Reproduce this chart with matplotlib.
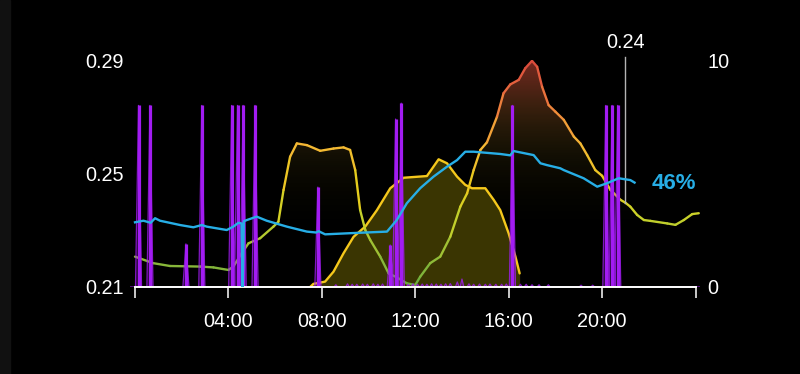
"""
Daily trace: value curve (0.21-0.29), secondary curve, percentage line and event spikes.
"""

import matplotlib
matplotlib.use("Agg")

import matplotlib.pyplot as plt
import numpy as np
from matplotlib.collections import LineCollection
from matplotlib.colors import LinearSegmentedColormap, Normalize
from matplotlib.patches import Rectangle

plt.rcParams["font.family"] = ["Liberation Sans", "DejaVu Sans"]

####################################################################
# DATA
####################################################################

grad_hours = [
    0.0, 0.78, 1.5, 2.79, 3.36, 4.0, 4.21, 4.57, 4.86, 5.36, 5.93, 6.14,
    6.36, 6.64, 6.93, 7.36, 7.93, 8.5, 8.93, 9.21, 9.43, 9.64, 9.86, 10.07,
    10.5, 10.86, 11.21, 11.64, 12.0, 12.21, 12.64, 13.07, 13.5, 13.93, 14.22,
    14.5, 14.79, 15.07, 15.5, 15.78, 16.07, 16.43, 16.71, 17.0, 17.22, 17.43,
    17.71, 18.0, 18.36, 18.79, 19.07, 19.36, 19.71, 20.0, 20.36, 20.79, 21.0,
    21.21, 21.5, 21.79, 22.07, 22.79, 23.14, 23.5, 23.86, 24.14,
]
grad_values = [
    0.2207, 0.2184, 0.2174, 0.2172, 0.2169, 0.2160, 0.2172, 0.2219, 0.2254,
    0.2272, 0.2313, 0.2330, 0.2442, 0.2559, 0.2606, 0.2600, 0.2580, 0.2588,
    0.2592, 0.2583, 0.2512, 0.2371, 0.2301, 0.2266, 0.2207, 0.2148, 0.2134,
    0.2113, 0.2107, 0.2136, 0.2184, 0.2207, 0.2277, 0.2383, 0.2430, 0.2512,
    0.2583, 0.2610, 0.2700, 0.2783, 0.2814, 0.2830, 0.2871, 0.2897, 0.2876,
    0.2806, 0.2741, 0.2718, 0.2689, 0.2630, 0.2606, 0.2565, 0.2512, 0.2492,
    0.2442, 0.2407, 0.2397, 0.2383, 0.2354, 0.2336, 0.2333, 0.2324, 0.2319,
    0.2336, 0.2357, 0.2360,
]

yellow_hours = [
    7.5, 7.64, 8.14, 8.5, 8.93, 9.36, 9.86, 10.36, 10.93, 11.5, 12.5, 12.78,
    13.0, 13.36, 13.79, 14.14, 14.43, 15.0, 15.36, 15.64, 16.0, 16.29, 16.47,
]
yellow_values = [
    0.2100, 0.2111, 0.2119, 0.2154, 0.2219, 0.2277, 0.2313, 0.2371, 0.2448,
    0.2485, 0.2491, 0.2524, 0.2550, 0.2536, 0.2489, 0.2460, 0.2448, 0.2448,
    0.2407, 0.2371, 0.2289, 0.2207, 0.2148,
]

blue_hours = [
    0.0, 0.36, 0.67, 0.86, 1.07, 1.93, 2.5, 2.86, 3.07, 3.93, 4.21, 4.43,
    4.56, 4.61, 4.66, 4.79, 5.21, 5.64, 6.5, 7.36, 7.76, 7.86, 8.14, 9.64,
    10.79, 11.21, 11.64, 12.21, 12.78, 13.36, 13.79, 14.14, 14.5, 15.64,
    16.07, 16.21, 17.07, 17.36, 17.64, 18.21, 18.36, 19.21, 19.79, 20.21,
    20.71, 21.21, 21.39,
]
blue_pct = [
    28.5, 29.2, 28.3, 30.3, 29.2, 27.3, 26.3, 27.3, 26.6, 25.1, 26.6, 28.3,
    28.0, 0.0, 29.0, 29.5, 31.0, 29.2, 26.6, 24.4, 24.0, 24.6, 23.2, 23.9,
    24.4, 29.5, 36.9, 43.5, 48.6, 53.0, 55.9, 59.6, 59.6, 58.6, 58.0, 59.9,
    58.1, 54.5, 53.7, 52.3, 51.5, 47.9, 44.2, 45.7, 47.9, 47.1, 46.0,
]

spike_hours = [
    0.15, 0.64, 2.18, 2.86, 4.14, 4.39, 4.63, 5.14, 7.83, 10.93, 11.16,
    11.40, 16.16, 20.16, 20.43, 20.67,
]
spike_heights = [
    8.0, 8.0, 1.9, 8.0, 8.0, 8.0, 8.0, 8.0, 4.4, 1.85, 7.4, 8.1, 8.0,
    8.0, 8.0, 8.0,
]

bump_hours = [
    8.6, 9.1, 9.3, 9.5, 9.75, 9.95, 10.2, 10.4, 10.6, 11.7, 11.9, 12.1,
    12.3, 12.5, 12.7, 12.9, 13.1, 13.3, 13.5, 13.8, 14.0, 14.3, 14.5,
    14.75, 15.0, 15.2, 15.45, 15.7, 15.9, 16.5, 16.75, 17.0, 17.3, 17.7,
    19.1, 19.6,
]
bump_heights = [
    0.10, 0.14, 0.12, 0.12, 0.13, 0.12, 0.14, 0.12, 0.13, 0.12, 0.14, 0.12,
    0.13, 0.12, 0.14, 0.13, 0.12, 0.14, 0.15, 0.22, 0.35, 0.14, 0.12,
    0.13, 0.12, 0.13, 0.12, 0.12, 0.13, 0.12, 0.12, 0.10, 0.10, 0.10,
    0.08, 0.08,
]

marker_hour = 21.0
hour_ticks = [0, 4, 8, 12, 16, 20, 24]
hour_labels = ["", "04:00", "08:00", "12:00", "16:00", "20:00", ""]
left_ticks = [0.21, 0.25, 0.29]
right_ticks = [0, 10]

####################################################################
# STYLE
####################################################################

BLUE = "#27aee6"
PURPLE = "#a21cf2"
YELLOW = "#f5c81c"
FONT = 14.3

grad_cmap = LinearSegmentedColormap.from_list(
    "grad",
    [
        (0.0, "#66aa3c"),
        (0.09, "#86b63a"),
        (0.31, "#c8d22a"),
        (0.44, "#e8cc1c"),
        (0.62, "#f4b834"),
        (0.75, "#f0903a"),
        (0.87, "#e8693e"),
        (1.0, "#d9483c"),
    ],
)
grad_norm = Normalize(0.21, 0.29)

####################################################################
# FIGURE
####################################################################

fig = plt.figure(figsize=(8, 3.74), dpi=100, facecolor="black")
fig.add_artist(Rectangle((0, 0), 10 / 800, 1, transform=fig.transFigure,
                         color="#111111", zorder=0))

px_per_hour = 560.5 / 24
x_lo, x_hi = -0.2, 24.2
ax_left = 135 - 0.2 * px_per_hour
ax_width = (x_hi - x_lo) * px_per_hour
rect = [ax_left / 800, 87 / 374, ax_width / 800, 227 / 374]

ax = fig.add_axes(rect)
ax.set_facecolor("black")
ax2 = ax.twinx()
ax3 = ax.twinx()

for a in (ax, ax2, ax3):
    a.set_xlim(x_lo, x_hi)
    for side in a.spines.values():
        side.set_visible(False)

ax.set_ylim(0.21, 0.29)
ax2.set_ylim(0, 10)
ax3.set_ylim(0, 100)

####################################################################
# GRADIENT CURVE (left scale)
####################################################################

fill = ax.fill_between(grad_hours, grad_values, 0.21, color="none", lw=0)
levels = np.linspace(0.21, 0.29, 256)
shade = grad_cmap(grad_norm(levels))
shade[:, 3] = 0.55 * grad_norm(levels) ** 3.5
im = ax.imshow(shade[:, None, :], extent=[grad_hours[0], grad_hours[-1], 0.21, 0.29],
               origin="lower", aspect="auto", zorder=1, interpolation="bilinear")
im.set_clip_path(fill.get_paths()[0], ax.transData)

ax.fill_between(yellow_hours, yellow_values, 0.21, color="#3a3502", lw=0, zorder=2)
ax.plot(yellow_hours, yellow_values, color=YELLOW, lw=1.7, zorder=3,
        solid_capstyle="round", solid_joinstyle="round")

pts = np.column_stack([grad_hours, grad_values])
segs = np.stack([pts[:-1], pts[1:]], axis=1)
mids = (pts[:-1, 1] + pts[1:, 1]) / 2
lc = LineCollection(segs, colors=grad_cmap(grad_norm(mids)), linewidths=1.7,
                    capstyle="round", joinstyle="round", zorder=4)
ax.add_collection(lc)

# marker at a chosen hour
marker_value = float(np.interp(marker_hour, grad_hours, grad_values))
top = 0.21 + 1.013 * 0.08
ax.plot([marker_hour, marker_hour], [marker_value, top], color="#b4b4b4",
        lw=1.0, clip_on=False, zorder=5)
ax.text(marker_hour, 0.21 + (287 - 48.3) / 227 * 0.08, f"{marker_value:.2f}",
        color="white", fontsize=FONT, ha="center", va="baseline", clip_on=False)

ax.set_yticks(left_ticks)
ax.set_yticklabels([f"{v:.2f}" for v in left_ticks])
ax.tick_params(axis="y", length=0, pad=5, labelsize=FONT, colors="white")
ax.tick_params(axis="x", bottom=False, labelbottom=False)

####################################################################
# SPIKES (right scale)
####################################################################

events = sorted(
    [(t, h, 0.13) for t, h in zip(spike_hours, spike_heights)]
    + [(t, h, 0.08) for t, h in zip(bump_hours, bump_heights)]
)
px, py = [x_lo], [0.0]
for t, h, w in events:
    px += [t - w, t, t + w]
    py += [0.0, h, 0.0]
px.append(x_hi)
py.append(0.0)
ax2.fill_between(px, py, 0, color=PURPLE, alpha=0.25, lw=0)
ax2.plot(px, py, color=PURPLE, lw=0.9, alpha=0.8)
ax2.vlines(spike_hours, 0, spike_heights, color=PURPLE, lw=2.3)

ax2.set_yticks(right_ticks)
ax2.set_yticklabels([str(v) for v in right_ticks])
ax2.tick_params(axis="y", length=0, pad=5, labelsize=FONT, colors="white")

####################################################################
# PERCENT LINE + AXIS
####################################################################

ax3.plot(blue_hours, blue_pct, color=BLUE, lw=1.7, zorder=3,
         solid_joinstyle="round")
ax3.text(22.11, 43.0, f"{blue_pct[-1]:.0f}%", color=BLUE, fontsize=16,
         fontweight="bold", ha="left", va="baseline")
ax3.set_yticks([])

ax3.xaxis.set_visible(True)
ax3.spines["bottom"].set_visible(True)
ax3.spines["bottom"].set_color("white")
ax3.spines["bottom"].set_linewidth(1.4)
ax3.spines["bottom"].set_bounds(0, 24)
ax3.set_xticks(hour_ticks)
ax3.set_xticklabels(hour_labels)
ax3.tick_params(axis="x", bottom=True, labelbottom=True, length=8, width=1.1,
                colors="white", pad=10, labelsize=FONT)

fig.savefig("out.png", dpi=100, facecolor="black")
